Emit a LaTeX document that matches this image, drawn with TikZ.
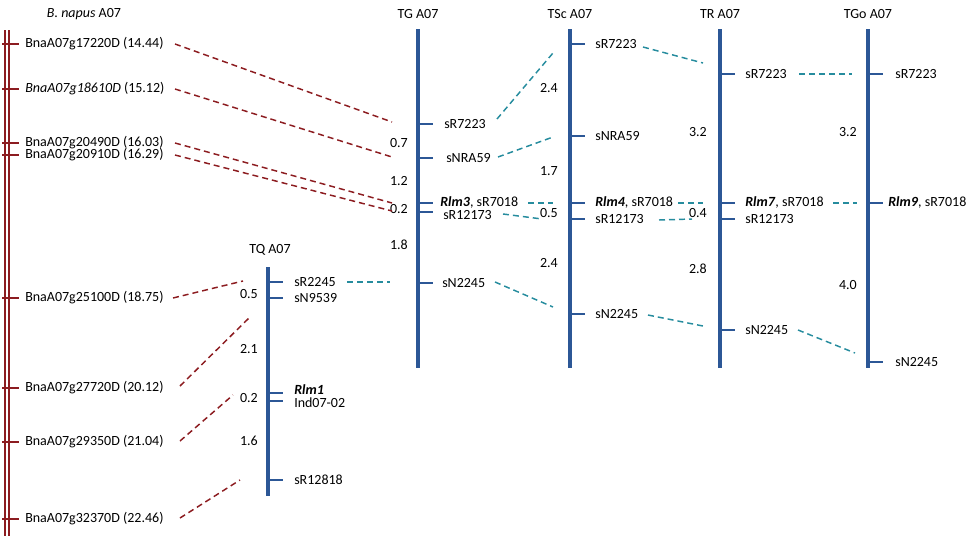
\documentclass[tikz,border=0pt]{standalone}
\usepackage{fontspec}
\setmainfont{Carlito}
\definecolor{chrblue}{RGB}{44,87,150}
\definecolor{napred}{RGB}{140,28,32}
\definecolor{linkteal}{RGB}{38,140,158}
\begin{document}
\begin{tikzpicture}[x=0.75pt,y=-0.75pt,
  font=\fontsize{10.5}{12}\selectfont,
  chrom/.style={chrblue,line width=3.2pt},
  btick/.style={chrblue,line width=1.6pt},
  rchrom/.style={napred,line width=1.5pt},
  rtick/.style={napred,line width=1.5pt},
  lbl/.style={anchor=west,inner sep=0pt},
  dist/.style={anchor=east,inner sep=0pt},
  ttl/.style={inner sep=0pt},
  redlink/.style={napred,line width=1.1pt,dash pattern=on 4.5pt off 3pt},
  tlink/.style={linkteal,line width=1.1pt,dash pattern=on 4.5pt off 3pt}]
\useasboundingbox (0,0) rectangle (970,539);

% ---------- B. napus A07 ----------
\node[ttl] (tnap) at (84,14) {\textit{B. napus} A07};
\draw[rchrom] (4.5,30) -- (4.5,536);
\draw[rchrom] (9,30) -- (9,536);
\foreach \y/\n/\t in {44/n1/BnaA07g17220D (14.44),
                      89/n2/\textit{BnaA07g18610D} (15.12),
                      143/n3/BnaA07g20490D (16.03),
                      155/n4/BnaA07g20910D (16.29),
                      298/n5/BnaA07g25100D (18.75),
                      388/n6/BnaA07g27720D (20.12),
                      442/n7/BnaA07g29350D (21.04),
                      519/n8/BnaA07g32370D (22.46)}{
  \draw[rtick] (2,\y) -- (19,\y);
  \node[lbl] (\n) at (25,\y) {\t};
}

% ---------- TQ A07 ----------
\node[ttl] (ttq) at (270,250) {TQ A07};
\draw[chrom] (268,267) -- (268,496);
\foreach \y/\n/\t in {282/q1/sR2245, 298/q2/sN9539, 480/q5/sR12818}{
  \draw[btick] (268,\y) -- (283,\y);
  \node[lbl] (\n) at (294,\y) {\t};
}
\draw[btick] (268,393) -- (283,393);
\draw[btick] (268,401) -- (283,401);
\node[lbl] (q3) at (294,390) {\textbf{\textit{Rlm1}}};
\node[lbl] (q4) at (294,403) {Ind07-02};
\foreach \y/\t in {294/0.5, 349/2.1, 398/0.2, 441/1.6}{
  \node[dist] at (258,\y) {\t};
}

% ---------- TG A07 ----------
\node[ttl] (ttg) at (418,14) {TG A07};
\draw[chrom] (418,29) -- (418,368);
\foreach \y in {124,158,203,212,283}{\draw[btick] (418,\y) -- (433,\y);}
\node[lbl] (g1) at (444,124) {sR7223};
\node[lbl] (g2) at (446,158) {sNRA59};
\node[lbl] (g3) at (440,202) {\textbf{\textit{Rlm3}}, sR7018};
\node[lbl] (g4) at (443,215) {sR12173};
\node[lbl] (g5) at (442,283) {sN2245};
\foreach \y/\t in {143/0.7, 181/1.2, 209/0.2, 245/1.8}{
  \node[dist] at (408,\y) {\t};
}

% ---------- TSc A07 ----------
\node[ttl] (ttsc) at (570,14) {TSc A07};
\draw[chrom] (570,29) -- (570,368);
\foreach \y in {44,136,203,219,314}{\draw[btick] (570,\y) -- (585,\y);}
\node[lbl] (s1) at (595,44) {sR7223};
\node[lbl] (s2) at (595,136) {sNRA59};
\node[lbl] (s3) at (595,202) {\textbf{\textit{Rlm4}}, sR7018};
\node[lbl] (s4) at (595,219) {sR12173};
\node[lbl] (s5) at (595,314) {sN2245};
\foreach \y/\t in {88/2.4, 171/1.7, 213/0.5, 263/2.4}{
  \node[dist] at (558,\y) {\t};
}

% ---------- TR A07 ----------
\node[ttl] (ttr) at (720,14) {TR A07};
\draw[chrom] (720,29) -- (720,368);
\foreach \y in {74,203,219,330}{\draw[btick] (720,\y) -- (735,\y);}
\node[lbl] (r1) at (745,74) {sR7223};
\node[lbl] (r3) at (745,202) {\textbf{\textit{Rlm7}}, sR7018};
\node[lbl] (r4) at (745,219) {sR12173};
\node[lbl] (r5) at (745,330) {sN2245};
\foreach \y/\t in {132/3.2, 213/0.4, 269/2.8}{
  \node[dist] at (707,\y) {\t};
}

% ---------- TGo A07 ----------
\node[ttl] (ttgo) at (868,14) {TGo A07};
\draw[chrom] (868,29) -- (868,368);
\foreach \y in {74,203,362}{\draw[btick] (868,\y) -- (883,\y);}
\node[lbl] (o1) at (895,74) {sR7223};
\node[lbl] (o3) at (888,202) {\textbf{\textit{Rlm9}}, sR7018};
\node[lbl] (o5) at (895,362) {sN2245};
\foreach \y/\t in {132/3.2, 285/4.0}{
  \node[dist] at (857,\y) {\t};
}

% ---------- red links ----------
\coordinate (a1s) at (175,44);  \coordinate (a1e) at (392,122);
\coordinate (a2s) at (175,89);  \coordinate (a2e) at (392,157);
\coordinate (a3s) at (175,143); \coordinate (a3e) at (392,203);
\coordinate (a4s) at (175,155); \coordinate (a4e) at (392,211);
\coordinate (a5s) at (173,298); \coordinate (a5e) at (243,281);
\coordinate (a6s) at (180,386); \coordinate (a6e) at (250,317);
\coordinate (a7s) at (180,441); \coordinate (a7e) at (233,395);
\coordinate (a8s) at (180,518); \coordinate (a8e) at (240,480);
\foreach \i in {1,...,8}{\draw[redlink] (a\i s) -- (a\i e);}

% ---------- teal links ----------
\coordinate (b1s) at (347,282); \coordinate (b1e) at (390,282);
\coordinate (b2s) at (497,119); \coordinate (b2e) at (553,53);
\coordinate (b3s) at (498,157); \coordinate (b3e) at (553,137);
\coordinate (b4s) at (528,203); \coordinate (b4e) at (553,203);
\coordinate (b5s) at (503,214); \coordinate (b5e) at (542,219);
\coordinate (b6s) at (495,282); \coordinate (b6e) at (553,307);
\coordinate (b7s) at (643,47);  \coordinate (b7e) at (703,63);
\coordinate (b8s) at (678,203); \coordinate (b8e) at (703,203);
\coordinate (b9s) at (659,220); \coordinate (b9e) at (692,219);
\coordinate (b10s) at (648,315); \coordinate (b10e) at (703,326);
\coordinate (b11s) at (799,74);  \coordinate (b11e) at (852,74);
\coordinate (b12s) at (833,203); \coordinate (b12e) at (857,203);
\coordinate (b13s) at (798,330); \coordinate (b13e) at (855,353);
\foreach \i in {1,...,13}{\draw[tlink] (b\i s) -- (b\i e);}
\end{tikzpicture}
\end{document}
